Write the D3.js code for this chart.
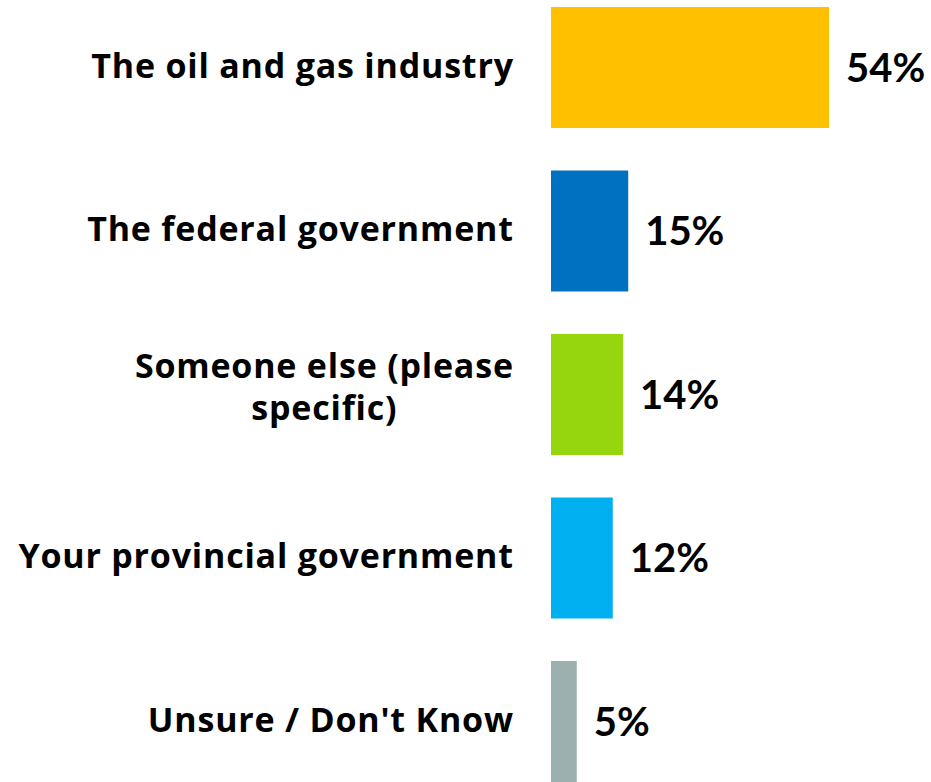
<!DOCTYPE html>
<html><head><meta charset="utf-8">
<script src="https://cdn.jsdelivr.net/npm/d3@7"></script>
<style>html,body{margin:0;padding:0;background:#fff;}</style>
</head><body>
<svg id="c" width="931" height="782"></svg>
<script>
const categories = ["The oil and gas industry","The federal government","Someone else (please specific)","Your provincial government","Unsure / Don't Know"];
const labelLines = [["The oil and gas industry"],["The federal government"],["Someone else (please","specific)"],["Your provincial government"],["Unsure / Don't Know"]];
const values = [54,15,14,12,5];
const colors = ["#FFC000","#0070C0","#96D60E","#00B0F0","#9BB0AF"];

const svg = d3.select("#c");
const x = d3.scaleLinear().domain([0,54]).range([551,829]);
const y = d3.scaleBand().domain(categories).range([-14.25,803.25]).paddingInner(0.26).paddingOuter(0.13);

svg.selectAll("rect.bar").data(categories).join("rect").attr("class","bar")
  .attr("x",x(0)).attr("y",d=>y(d)).attr("height",y.bandwidth())
  .attr("width",(d,i)=>x(values[i])-x(0)).attr("fill",(d,i)=>colors[i]);

svg.selectAll("text.val").data(categories).join("text").attr("class","val")
  .attr("x",(d,i)=>x(values[i])+17).attr("y",d=>y(d)+y.bandwidth()/2)
  .attr("dy","0.36em")
  .style("font-family","Lato, 'Open Sans', sans-serif").style("font-weight","700").style("font-size","40px")
  .attr("fill","#000").text((d,i)=>values[i]+"%");

const labelRight = 513.8;
const lh = 42;
const lf = "'Open Sans', Lato, sans-serif";
categories.forEach((c,i)=>{
  const lines = labelLines[i];
  const cy = y(c)+y.bandwidth()/2;
  const y0 = lines.length>1 ? cy-(lines.length-1)*lh/2-5.5 : cy;
  const t = svg.append("text")
    .style("font-family",lf).style("font-weight","700").style("font-size","34px").style("letter-spacing","0.8px");
  const first = t.append("tspan").attr("text-anchor","end").attr("x",labelRight).attr("y",y0).attr("dy","0.3em").text(lines[0]);
  if(lines.length>1){
    const w = first.node().getComputedTextLength();
    for(let k=1;k<lines.length;k++){
      t.append("tspan").attr("text-anchor","middle").attr("x",labelRight-w/2)
       .attr("y",y0+k*lh).attr("dy","0.3em").text(lines[k]);
    }
  }
});
</script>
</body></html>
